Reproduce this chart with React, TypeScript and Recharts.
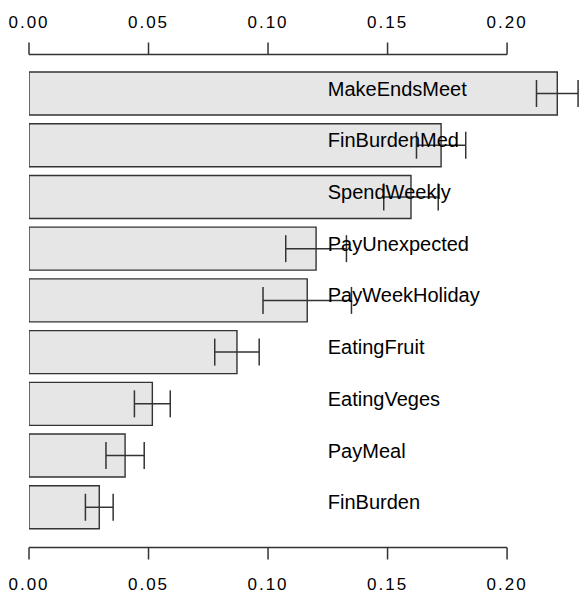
import { Bar, BarChart, ErrorBar, LabelList, XAxis, YAxis } from 'recharts';

const variables = [
  'MakeEndsMeet',
  'FinBurdenMed',
  'SpendWeekly',
  'PayUnexpected',
  'PayWeekHoliday',
  'EatingFruit',
  'EatingVeges',
  'PayMeal',
  'FinBurden',
];
const importance = [0.221, 0.1724, 0.1598, 0.1201, 0.1164, 0.087, 0.0516, 0.0402, 0.0294];
const errors = [0.0087, 0.0103, 0.0114, 0.0127, 0.0185, 0.0093, 0.0075, 0.008, 0.0058];
const xTicks = [0, 0.05, 0.1, 0.15, 0.2];
const labelAt = 0.125;

const data = variables.map((name, i) => ({
  name,
  value: importance[i],
  err: errors[i],
}));

const FONT = '"Liberation Sans", Arial, sans-serif';
const INK = '#333333';
const DOMAIN: [number, number] = [0, 0.2326];

function NameLabel(props: any) {
  const { x, y, width, height, index } = props;
  const v = importance[index];
  const lx = x + (width * labelAt) / v;
  return (
    <text
      x={lx}
      y={y + height / 2 + 2}
      fontSize={20}
      fontFamily={FONT}
      fill="#000"
      textAnchor="start"
    >
      {variables[index]}
    </text>
  );
}

const tickFmt = (v: number) => v.toFixed(2);
const tickStyle = { fill: '#000', fontSize: 17, fontFamily: FONT, letterSpacing: 2 };
const axisLine = { stroke: INK, strokeWidth: 1.5, strokeDasharray: '478 1000' };
const tickLine = { stroke: INK, strokeWidth: 1.5 };

export default function App() {
  return (
    <div style={{ position: 'absolute', left: 0, top: 0, background: '#fff' }}>
      <BarChart
        width={585}
        height={594}
        data={data}
        layout="vertical"
        margin={{ top: 0, right: 0, left: 29, bottom: 0 }}
        barSize={43}
      >
        <XAxis
          xAxisId="top"
          type="number"
          orientation="top"
          domain={DOMAIN}
          allowDataOverflow
          ticks={xTicks}
          tickFormatter={tickFmt}
          height={54.5}
          tickSize={12}
          tickMargin={15}
          tick={tickStyle}
          axisLine={axisLine}
          tickLine={tickLine}
          interval={0}
        />
        <XAxis
          xAxisId="bottom"
          type="number"
          orientation="bottom"
          domain={DOMAIN}
          allowDataOverflow
          ticks={xTicks}
          tickFormatter={tickFmt}
          height={46.5}
          tickSize={12}
          tickMargin={18}
          tick={tickStyle}
          axisLine={axisLine}
          tickLine={tickLine}
          interval={0}
        />
        <YAxis
          type="category"
          dataKey="name"
          hide
          padding={{ top: 13.5, bottom: 14 }}
        />
        <Bar
          dataKey="value"
          xAxisId="top"
          fill="#e6e6e6"
          stroke={INK}
          strokeWidth={1.4}
          isAnimationActive={false}
        >
          <LabelList dataKey="value" content={NameLabel} />
          <ErrorBar
            dataKey="err"
            direction="x"
            width={13.5}
            stroke={INK}
            strokeWidth={1.5}
          />
        </Bar>
      </BarChart>
    </div>
  );
}
